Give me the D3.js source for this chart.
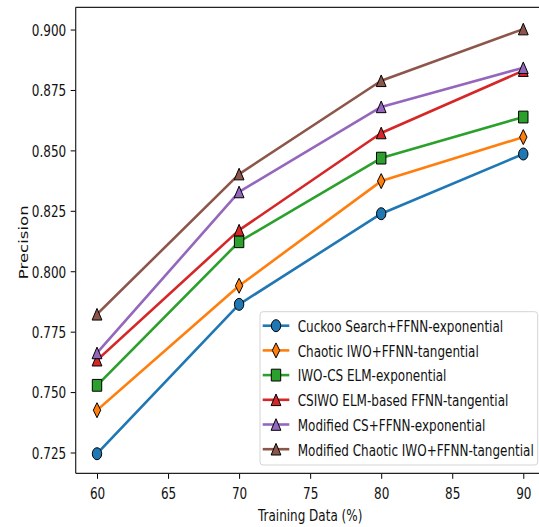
<!DOCTYPE html>
<html><head><meta charset="utf-8">
<script src="https://cdn.jsdelivr.net/npm/d3@7/dist/d3.min.js"></script>
<style>body{margin:0;background:#fff}svg{display:block}</style>
</head><body>
<svg id="chart" width="539" height="527"></svg>
<script>
// ---- data ----
const trainingData = [60, 70, 80, 90];
const seriesNames = [
  "Cuckoo Search+FFNN-exponential",
  "Chaotic IWO+FFNN-tangential",
  "IWO-CS ELM-exponential",
  "CSIWO ELM-based FFNN-tangential",
  "Modified CS+FFNN-exponential",
  "Modified Chaotic IWO+FFNN-tangential"
];
const cuckooSearch = [0.7245, 0.7863, 0.8238, 0.8485];
const chaoticIWO = [0.7425, 0.7940, 0.8373, 0.8555];
const iwoCS = [0.7528, 0.8122, 0.8468, 0.8638];
const csiwo = [0.7632, 0.8170, 0.8572, 0.8830];
const modifiedCS = [0.7662, 0.8328, 0.8680, 0.8842];
const modifiedChaoticIWO = [0.7822, 0.8402, 0.8788, 0.9002];
const seriesValues = [cuckooSearch, chaoticIWO, iwoCS, csiwo, modifiedCS, modifiedChaoticIWO];
const xTicks = [60, 65, 70, 75, 80, 85, 90];
const yTicks = [0.725, 0.750, 0.775, 0.800, 0.825, 0.850, 0.875, 0.900];
const xLabel = "Training Data (%)";
const yLabel = "Precision";

// ---- styles ----
const colors = ["#1f77b4", "#ff7f0e", "#2ca02c", "#d62728", "#9467bd", "#8c564b"];
const markers = ["circle", "thin_diamond", "square", "triangle", "triangle", "triangle"];
const SY = 1.38;           // vertical stretch of the original raster
const FONT = "DejaVu Sans, Verdana, sans-serif";

const svg = d3.select("#chart");
const L = 75.7, T = 7.3, B = 473.3, R = 544.6;
const x = d3.scaleLinear().domain([58.5, 91.5]).range([L, R]);
const y = d3.scaleLinear().domain([0.7164, 0.9092]).range([B, T]);

function markerPath(kind) {
  if (kind === "circle") {
    const rx = 4.7, ry = 6.0;
    return `M${-rx},0A${rx},${ry} 0 1 0 ${rx},0A${rx},${ry} 0 1 0 ${-rx},0Z`;
  }
  if (kind === "square") { const w = 9.4, h = 11.8; return `M${-w/2},${-h/2}h${w}v${h}h${-w}Z`; }
  if (kind === "triangle") { const w = 9.8, h = 11.6; return `M0,${-h/2}L${w/2},${h/2}L${-w/2},${h/2}Z`; }
  if (kind === "thin_diamond") { const w = 7.4, h = 15; return `M0,${-h/2}L${w/2},0L0,${h/2}L${-w/2},0Z`; }
}

// ---- axes ----
const yAxis = svg.append("g").attr("transform", `translate(${L},0)`)
  .call(d3.axisLeft(y).tickValues(yTicks).tickFormat(d3.format(".3f")).tickSize(5));
yAxis.select(".domain").remove();
yAxis.selectAll("line").attr("stroke", "#000").attr("stroke-width", 1);
yAxis.selectAll("text").attr("x", null).attr("dy", null)
  .attr("transform", `translate(-9.5,5.8) scale(1,${SY})`)
  .attr("text-anchor", "end").attr("fill", "#111")
  .style("font-family", FONT).style("font-size", "12px");

const xAxis = svg.append("g").attr("transform", `translate(0,${B})`)
  .call(d3.axisBottom(x).tickValues(xTicks).tickFormat(d3.format("d")).tickSize(5.5));
xAxis.select(".domain").remove();
xAxis.selectAll("line").attr("stroke", "#000").attr("stroke-width", 1);
xAxis.selectAll("text").attr("y", null).attr("dy", null)
  .attr("transform", `translate(0,26) scale(1,${SY})`)
  .attr("text-anchor", "middle").attr("fill", "#111")
  .style("font-family", FONT).style("font-size", "12px");

// spines
svg.append("line").attr("x1", L).attr("x2", L).attr("y1", T).attr("y2", B).attr("stroke", "#222").attr("stroke-width", 1.2);
svg.append("line").attr("x1", L).attr("x2", 539).attr("y1", B).attr("y2", B).attr("stroke", "#222").attr("stroke-width", 1.2);
svg.append("line").attr("x1", L).attr("x2", 539).attr("y1", T).attr("y2", T).attr("stroke", "#222").attr("stroke-width", 1.2);

// axis labels
svg.append("text").text(xLabel)
  .attr("transform", `translate(${(L + R) / 2},520.5) scale(1,${SY})`)
  .attr("text-anchor", "middle").attr("fill", "#111")
  .style("font-family", FONT).style("font-size", "12px");
svg.append("text").text(yLabel)
  .attr("transform", `translate(28,${(T + B) / 2 + 2}) rotate(-90) scale(${SY},1)`)
  .attr("text-anchor", "middle").attr("fill", "#111")
  .style("font-family", FONT).style("font-size", "12px");

// ---- series ----
const line = d3.line().x((d, i) => x(trainingData[i])).y(d => y(d));
seriesValues.forEach((vals, si) => {
  const g = svg.append("g");
  g.append("path").datum(vals).attr("d", line)
    .attr("fill", "none").attr("stroke", colors[si]).attr("stroke-width", 2.6)
    .attr("stroke-linejoin", "round").attr("stroke-linecap", "square");
  g.selectAll("path.m").data(vals).enter().append("path").attr("class", "m")
    .attr("transform", (d, i) => `translate(${x(trainingData[i])},${y(d)})`)
    .attr("d", markerPath(markers[si]))
    .attr("fill", colors[si]).attr("stroke", "#000").attr("stroke-width", 1);
});

// ---- legend ----
const lg = svg.append("g");
lg.append("rect").attr("x", 260).attr("y", 311.7).attr("width", 277.7).attr("height", 153.3)
  .attr("rx", 3).attr("fill", "rgba(255,255,255,0.85)").attr("stroke", "#d4d4d4").attr("stroke-width", 1);
const rowY = i => 325.7 + i * 24.7;
seriesNames.forEach((name, i) => {
  const gy = rowY(i);
  lg.append("line").attr("x1", 262.7).attr("x2", 289.3).attr("y1", gy).attr("y2", gy)
    .attr("stroke", colors[i]).attr("stroke-width", 2.6);
  lg.append("path").attr("transform", `translate(276,${gy})`).attr("d", markerPath(markers[i]))
    .attr("fill", colors[i]).attr("stroke", "#000").attr("stroke-width", 1);
  lg.append("text").text(name)
    .attr("transform", `translate(297.7,${gy + 6.3}) scale(1,${SY})`)
    .attr("fill", "#111").style("font-family", FONT).style("font-size", "12px");
});
</script>
</body></html>
